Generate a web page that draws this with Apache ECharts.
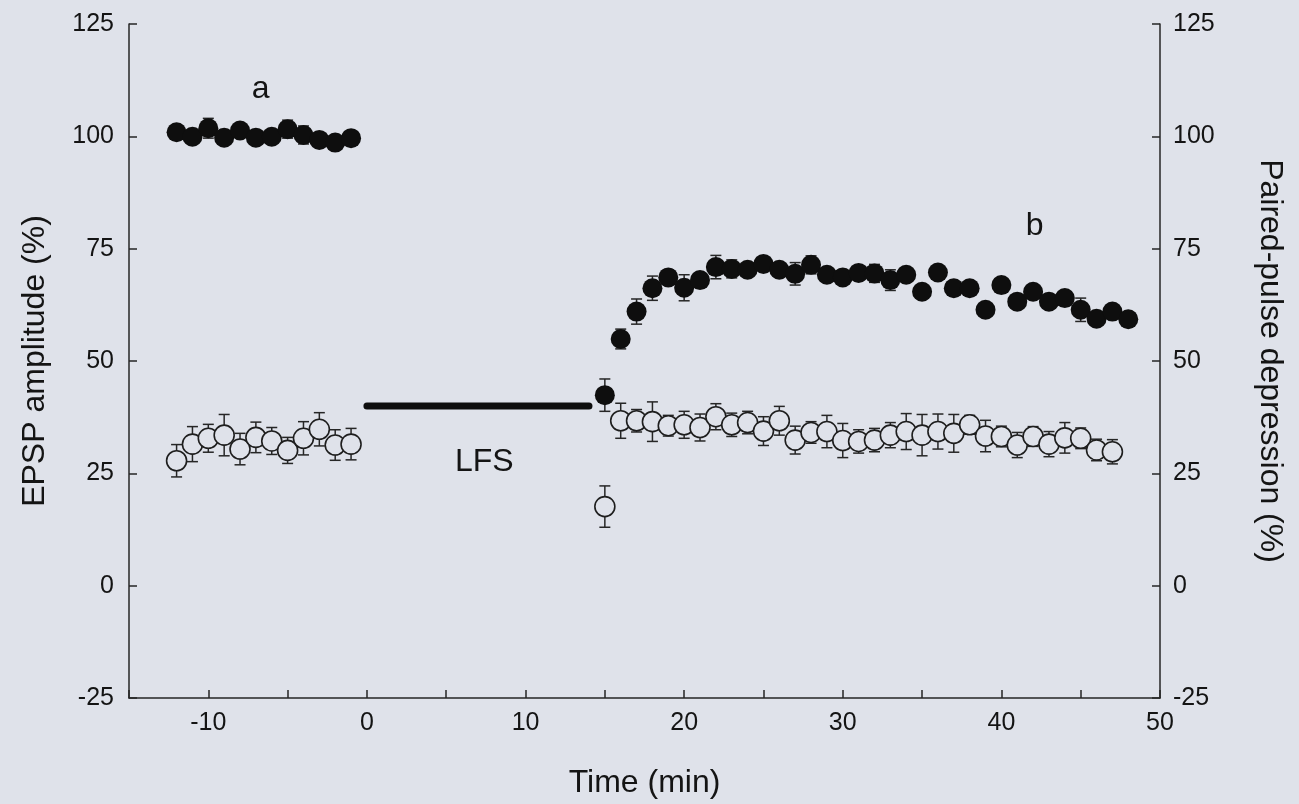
<!DOCTYPE html>
<html>
<head>
<meta charset="utf-8">
<script src="https://cdn.jsdelivr.net/npm/echarts@6/dist/echarts.min.js"></script>
<style>
html,body{margin:0;padding:0;background:#dfe2ea;}
#c{width:1299px;height:804px;}
</style>
</head>
<body>
<div id="c"></div>
<script>
// ---- data ----
const epspTime = [-12,-11,-10,-9,-8,-7,-6,-5,-4,-3,-2,-1,
  15,16,17,18,19,20,21,22,23,24,25,26,27,28,29,30,31,32,33,34,35,36,37,38,39,40,41,42,43,44,45,46,47,48];
const epspMean = [100.9,99.9,101.8,99.7,101.3,99.7,99.9,101.6,100.3,99.2,98.6,99.6,
  42.4,54.9,61.0,66.2,68.6,66.3,68.0,70.9,70.5,70.3,71.6,70.3,69.4,71.4,69.2,68.6,69.6,69.5,68.0,69.2,
  65.4,69.7,66.2,66.2,61.4,66.9,63.2,65.4,63.2,64.0,61.4,59.4,61.0,59.3];
const epspSem = [1.2,1.2,2.2,1.2,1.2,1.2,1.2,2.0,2.0,1.2,1.2,1.2,
  3.6,2.2,2.8,2.7,1.7,2.9,1.5,2.6,2.0,1.5,1.5,1.5,2.5,2.0,1.5,1.5,1.5,2.0,2.3,1.5,
  1.2,1.2,1.2,1.2,1.2,1.2,1.2,1.2,1.2,1.2,2.6,1.2,1.2,1.2];

const ppdTime = [-12,-11,-10,-9,-8,-7,-6,-5,-4,-3,-2,-1,
  15,16,17,18,19,20,21,22,23,24,25,26,27,28,29,30,31,32,33,34,35,36,37,38,39,40,41,42,43,44,45,46,47];
const ppdMean = [27.8,31.5,32.8,33.5,30.4,33.0,32.2,30.1,32.8,34.8,31.3,31.5,
  17.6,36.7,36.7,36.5,35.6,35.8,35.2,37.6,35.8,36.3,34.4,36.7,32.4,34.1,34.3,32.3,32.1,32.4,33.5,34.3,
  33.5,34.3,33.9,35.8,33.3,33.2,31.3,33.2,31.5,32.9,32.8,30.2,29.8];
const ppdSem = [3.6,3.9,3.1,4.6,3.5,3.4,3.0,2.9,3.7,3.7,3.4,3.5,
  4.6,3.9,2.5,4.4,2.3,3.0,3.0,2.9,2.6,2.5,3.2,3.2,3.1,2.4,3.6,3.8,2.6,2.6,2.8,4.0,
  4.6,3.9,4.2,2.1,3.5,2.3,2.8,2.2,2.8,3.4,2.3,2.4,2.7];

const lfsTime = [0, 14];
const lfsLevel = [40, 40];

const annotText = ['a', 'b', 'LFS'];
const annotX = [-6.7, 42.1, 7.4];
const annotY = [110.5, 80, 27.5];

const xTicks = [-10, 0, 10, 20, 30, 40, 50];
const yTicks = [-25, 0, 25, 50, 75, 100, 125];

// ---- build ----
const FONT = 'Liberation Sans';
const TXT = '#141414';
const BG = '#dfe2ea';
const LINE = '#262626';
const zip3 = (a, b, c) => a.map((v, i) => [v, b[i], c[i]]);

function errItem(params, api) {
  const x = api.value(0), m = api.value(1), s = api.value(2);
  const hi = api.coord([x, m + s]);
  const lo = api.coord([x, m - s]);
  const hw = 5.5;
  const st = { stroke: LINE, lineWidth: 1.5 };
  return { type: 'group', children: [
    { type: 'line', shape: { x1: hi[0], y1: hi[1], x2: lo[0], y2: lo[1] }, style: st },
    { type: 'line', shape: { x1: hi[0] - hw, y1: hi[1], x2: hi[0] + hw, y2: hi[1] }, style: st },
    { type: 'line', shape: { x1: lo[0] - hw, y1: lo[1], x2: lo[0] + hw, y2: lo[1] }, style: st }
  ]};
}

const yAxisCommon = {
  type: 'value', min: yTicks[0], max: yTicks[yTicks.length - 1], interval: 25,
  axisLine: { show: true, onZero: false, lineStyle: { color: LINE, width: 1.5 } },
  axisTick: { show: true, inside: true, length: 8, lineStyle: { color: LINE, width: 1.5 } },
  splitLine: { show: false },
  nameLocation: 'middle',
  nameTextStyle: { color: TXT, fontFamily: FONT, fontSize: 32 }
};
const tickLabel = { color: TXT, fontFamily: FONT, fontSize: 25 };

const chart = echarts.init(document.getElementById('c'), null, { renderer: 'canvas' });
chart.setOption({
  backgroundColor: BG,
  animation: false,
  grid: { left: 129, right: 139, top: 24, bottom: 106 },
  xAxis: {
    type: 'value', min: -15, max: 50, interval: 5,
    axisLine: { onZero: false, lineStyle: { color: LINE, width: 1.5 } },
    axisTick: { inside: true, length: 8, lineStyle: { color: LINE, width: 1.5 } },
    splitLine: { show: false },
    axisLabel: Object.assign({}, tickLabel, { margin: 13,
      formatter: v => (xTicks.indexOf(v) >= 0 ? String(v) : '') }),
    name: 'Time (min)', nameLocation: 'middle', nameGap: 69,
    nameTextStyle: { color: TXT, fontFamily: FONT, fontSize: 32 }
  },
  yAxis: [
    Object.assign({}, yAxisCommon, { position: 'left', name: 'EPSP amplitude (%)', nameGap: 78, nameRotate: 90,
      axisLabel: Object.assign({}, tickLabel, { margin: 15 }) }),
    Object.assign({}, yAxisCommon, { position: 'right', name: 'Paired-pulse depression (%)', nameGap: 94, nameRotate: -90,
      axisLabel: Object.assign({}, tickLabel, { margin: 13 }) })
  ],
  series: [
    { type: 'custom', name: 'ppd-err', yAxisIndex: 1, renderItem: errItem,
      data: zip3(ppdTime, ppdMean, ppdSem), encode: { x: 0, y: 1 }, z: 2, silent: true },
    { type: 'scatter', name: 'Paired-pulse depression', yAxisIndex: 1, symbol: 'circle', symbolSize: 20,
      itemStyle: { color: BG, borderColor: '#1e1e1e', borderWidth: 1.6, opacity: 1 },
      data: ppdTime.map((t, i) => [t, ppdMean[i]]), z: 3 },
    { type: 'custom', name: 'epsp-err', yAxisIndex: 0, renderItem: errItem,
      data: zip3(epspTime, epspMean, epspSem), encode: { x: 0, y: 1 }, z: 4, silent: true },
    { type: 'scatter', name: 'EPSP amplitude', yAxisIndex: 0, symbol: 'circle', symbolSize: 20,
      itemStyle: { color: '#0e0e0e', opacity: 1 },
      data: epspTime.map((t, i) => [t, epspMean[i]]), z: 5 },
    { type: 'line', name: 'LFS', yAxisIndex: 0, showSymbol: false, symbol: 'none',
      lineStyle: { color: '#0e0e0e', width: 7, cap: 'round' },
      data: lfsTime.map((t, i) => [t, lfsLevel[i]]), z: 6 }
  ]
});

// annotation texts placed at data coordinates through the chart's own scales
chart.setOption({
  graphic: annotText.map((s, i) => {
    const p = chart.convertToPixel({ xAxisIndex: 0, yAxisIndex: 0 }, [annotX[i], annotY[i]]);
    return { type: 'text', x: p[0], y: p[1], z: 100,
      style: { text: s, fill: TXT, font: '32px "' + FONT + '"', align: 'center', verticalAlign: 'middle' } };
  })
});
</script>
</body>
</html>
